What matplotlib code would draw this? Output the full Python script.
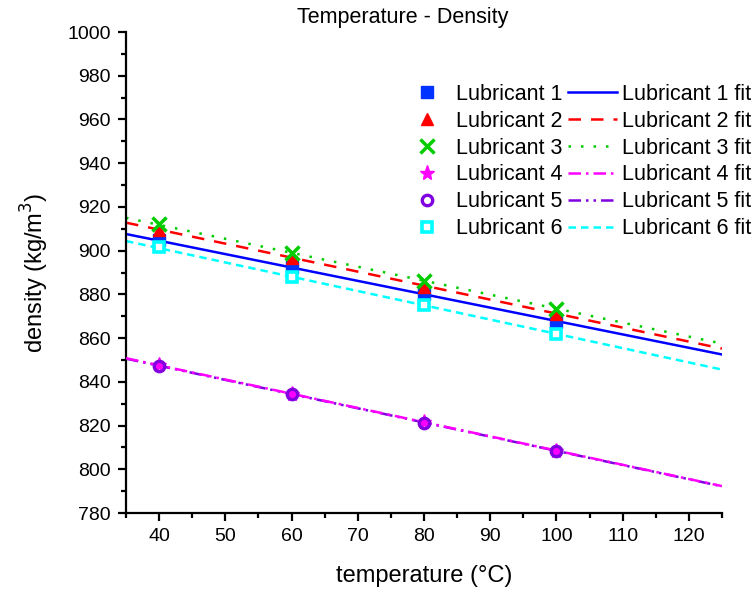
import matplotlib
matplotlib.use("Agg")
import matplotlib.pyplot as plt
from matplotlib.ticker import MultipleLocator

plt.rcParams['font.family'] = ['Liberation Sans', 'DejaVu Sans']

temperature = [40, 60, 80, 100]
lub1 = [905.0, 892.5, 880.0, 867.5]
lub2 = [909.5, 896.5, 883.5, 871.0]
lub3 = [912.0, 899.0, 886.0, 873.5]
lub4 = [847.5, 834.5, 821.5, 808.5]
lub5 = [847.3, 834.3, 821.3, 808.4]
lub6 = [901.5, 888.0, 875.0, 862.0]

fit_x = [35, 125]
fit1 = [907.6, 852.5]
fit2 = [912.8, 855.2]
fit3 = [915.0, 857.5]
fit4 = [850.8, 792.3]
fit5 = [850.6, 792.2]
fit6 = [904.4, 845.6]

names = ['Lubricant 1', 'Lubricant 2', 'Lubricant 3', 'Lubricant 4', 'Lubricant 5', 'Lubricant 6']
series = [lub1, lub2, lub3, lub4, lub5, lub6]
fits = [fit1, fit2, fit3, fit4, fit5, fit6]

colors = ['#0033ff', '#ff0000', '#00cc00', '#ff00ff', '#8000e0', '#00ffff']
line_colors = ['#0000ff', '#ff0000', '#00cc00', '#ff00ff', '#8000e0', '#00ffff']
markers = ['s', '^', 'x', '*', 'o', 's']
styles = ['-', (0, (5, 4)), (0, (1, 4)), (0, (5, 2, 1, 2)), (0, (5, 2, 1, 2, 1, 2)), (0, (3, 2))]
line_z = [2, 2, 2, 2.6, 2.5, 2]

fig = plt.figure(figsize=(7.53, 5.92), dpi=100)
ax = fig.add_axes([126/753, 1-513/592, (722-126)/753, (513-32)/592])

marker_handles = []
line_handles = []
for i in range(6):
    c = colors[i]
    m = markers[i]
    if m == 'o':
        kw = dict(marker=m, markersize=7.5, markerfacecolor='none', markeredgecolor=c, markeredgewidth=2.4)
    elif i == 5:
        kw = dict(marker=m, markersize=7, markerfacecolor='white', markeredgecolor=c, markeredgewidth=2.6)
    elif m == 'x':
        kw = dict(marker=m, markersize=10, markeredgecolor=c, markeredgewidth=2.5)
    elif m == '*':
        kw = dict(marker=m, markersize=11, markerfacecolor=c, markeredgecolor=c)
    else:
        kw = dict(marker=m, markersize=8.5, markerfacecolor=c, markeredgecolor=c)
    h, = ax.plot(temperature, series[i], linestyle='none', label=names[i], zorder=3, **kw)
    marker_handles.append(h)

for i in range(6):
    l, = ax.plot(fit_x, fits[i], color=line_colors[i], linestyle=styles[i], lw=1.8,
                 label=names[i] + ' fit', zorder=line_z[i])
    line_handles.append(l)

ax.set_xlim(35, 125)
ax.set_ylim(780, 1000)
ax.xaxis.set_major_locator(MultipleLocator(10))
ax.xaxis.set_minor_locator(MultipleLocator(5))
ax.yaxis.set_major_locator(MultipleLocator(20))
ax.yaxis.set_minor_locator(MultipleLocator(10))
ax.spines['top'].set_visible(False)
ax.spines['right'].set_visible(False)
for s in ('left', 'bottom'):
    ax.spines[s].set_linewidth(1.6)
ax.tick_params(which='major', direction='out', length=6, width=1.6, labelsize=14, pad=5)
ax.tick_params(which='minor', direction='out', length=3.5, width=1.6)

ax.set_xlabel('temperature (°C)', fontsize=17, labelpad=14)
ax.set_ylabel('density (kg/m$^3$)', fontsize=17, labelpad=12)
fig.text(0.535, 1 - 18/592, 'Temperature - Density', ha='center', va='center', fontsize=15.5)

leg = ax.legend(handles=marker_handles + line_handles, ncol=2, frameon=False,
                loc='upper left', bbox_to_anchor=(402/753, 1 - 84/592),
                bbox_transform=fig.transFigure, fontsize=15.5, handlelength=2.3,
                handletextpad=0.2, columnspacing=0.25, labelspacing=0.27,
                borderpad=0, borderaxespad=0)

fig.savefig('out.png', dpi=100)
